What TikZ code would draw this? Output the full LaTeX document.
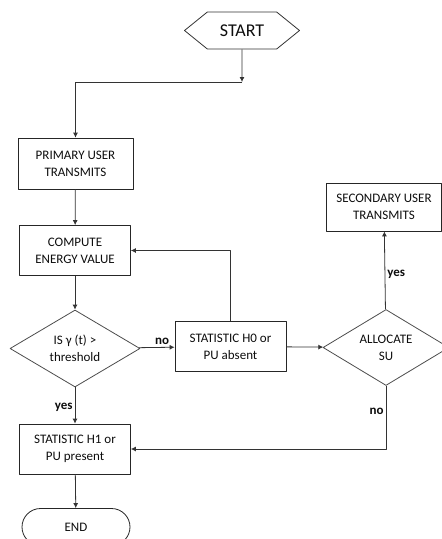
\documentclass[tikz,border=0pt]{standalone}
\usepackage{fontspec}
\setmainfont{Carlito}
\usetikzlibrary{arrows.meta,shapes.geometric,shapes.symbols,shapes.misc}
\begin{document}
\begin{tikzpicture}[x=1pt,y=-1pt,>={Latex[length=5pt,width=5pt]},line join=round,
					every node/.style={font=\fontsize{13}{17}\selectfont,text=black!95,align=center},
					box/.style={draw=black!85,line width=0.8pt,minimum width=111pt,minimum height=50pt,inner sep=0pt},
					decision/.style={diamond,aspect=1.7,draw=black!70,line width=0.8pt,minimum width=130pt,minimum height=77pt,inner sep=0pt},
					flow/.style={draw=black!80,line width=0.8pt,->},
					lab/.style={font=\fontsize{13}{15}\selectfont\bfseries,inner sep=2pt}]
					\useasboundingbox (0,0) rectangle (442,539);
					\path
					(242,30.5) coordinate (S)
					(242,82) coordinate (J)
					(75.5,163.5) coordinate (P)
					(75,250.5) coordinate (C)
					(75,348.5) coordinate (D1)
					(230.5,346.5) coordinate (H0)
					(386,347.5) coordinate (D2)
					(384,207) coordinate (SU)
					(75,449) coordinate (H1)
					(76,527) coordinate (E);
					\node[signal,signal to=west and east,signal pointer angle=78,draw=black!80,line width=0.8pt,
						minimum width=115pt,minimum height=37pt,inner sep=0pt,font=\fontsize{18}{20}\selectfont] (start) at (S) {START};
					\node[box,minimum width=115pt,minimum height=51pt] (pu) at (P) {PRIMARY USER\\TRANSMITS};
					\node[box] (compute) at (C) {COMPUTE\\ENERGY VALUE};
					\node[decision] (test) at (D1) {IS γ (t) >\\threshold};
					\node[box] (h0) at (H0) {STATISTIC H0 or\\PU absent};
					\node[decision,minimum width=126pt,minimum height=76pt] (alloc) at (D2) {ALLOCATE\\SU};
					\node[box,minimum width=115pt,minimum height=48pt] (su) at (SU) {SECONDARY USER\\TRANSMITS};
					\node[box] (h1) at (H1) {STATISTIC H1 or\\PU present};
					\node[rounded rectangle,draw=black!85,line width=0.8pt,minimum width=108pt,minimum height=37pt,inner sep=0pt] (end) at (E) {END};
					\draw[flow] (start) -- (J);
					\draw[flow] (J) -| (pu);
					\draw[flow] (pu) -- (compute);
					\draw[flow] (compute) -- (test);
					\draw[flow] (test) -- node[lab,pos=0.65,above] {no} (h0);
					\draw[flow] (h0) |- (compute);
					\draw[flow] (h0) -- (alloc);
					\draw[flow] (alloc) -- node[lab,pos=0.45,right] {yes} (su);
					\draw[flow] (alloc) |- node[lab,pos=0.2,left] {no} (h1);
					\draw[flow] (test) -- node[lab,pos=0.55,left] {yes} (h1);
					\draw[flow] (h1) -- (end);
				\end{tikzpicture}
\end{document}
